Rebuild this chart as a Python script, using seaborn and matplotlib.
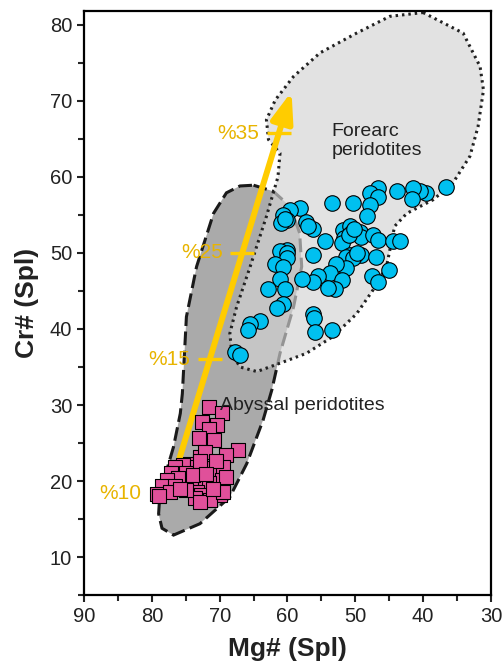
import numpy as np
import pandas as pd
import seaborn as sns
import matplotlib.pyplot as plt
from matplotlib.patches import Polygon, FancyArrowPatch
from matplotlib.ticker import MultipleLocator

# --------------------------------------------------------------
# Data
# --------------------------------------------------------------
forearc_mg = [36.6, 39.5, 40.5, 41.5, 41.7, 43.9, 46.6, 47.8, 46.7, 47.8, 48.3, 50.4,
              53.5, 58.2, 59.6, 60.6, 60.1, 60.9, 60.4, 57.2, 56.2, 56.9, 54.5, 51.8,
              50.8, 50.7, 49.3, 49.1, 51.6, 52.0, 47.4, 46.6, 44.4, 43.4, 49.1, 50.1,
              50.8, 51.3, 50.4, 47.0, 45.1, 47.6, 46.6, 51.3, 52.8, 53.7, 52.0, 53.0,
              54.0, 55.5, 56.2, 57.9, 56.2, 60.1, 61.1, 60.0, 60.1, 61.8, 60.6, 61.1,
              60.4, 62.8, 60.6, 61.6, 64.1, 65.5, 65.8, 56.2, 56.1, 56.0, 53.5, 67.7,
              67.0, 51.0, 50.2, 49.8]
forearc_cr = [58.6, 57.9, 58.1, 58.5, 57.1, 58.1, 58.5, 57.9, 57.4, 56.3, 54.8, 56.6,
              56.5, 55.9, 55.7, 55.0, 54.3, 53.9, 54.5, 54.1, 53.2, 53.6, 51.6, 53.0,
              53.5, 52.6, 52.8, 52.1, 51.9, 51.3, 52.4, 51.7, 51.6, 51.6, 49.7, 49.7,
              49.7, 49.5, 49.3, 49.5, 47.7, 47.0, 46.2, 48.0, 48.6, 47.3, 46.4, 45.3,
              45.4, 46.9, 46.2, 46.6, 49.7, 50.4, 50.2, 50.0, 49.3, 48.6, 48.2, 46.6,
              45.3, 45.3, 43.3, 42.7, 41.0, 40.7, 39.9, 42.0, 41.5, 39.6, 39.9, 37.0,
              36.6, 52.3, 53.2, 50.0]

abyssal_mg = [71.6, 69.7, 72.6, 70.4, 71.6, 73.1, 70.9, 67.3, 69.0, 72.9, 72.2, 74.4,
              75.4, 76.6, 73.4, 71.2, 69.5, 72.2, 74.9, 77.1, 76.1, 77.8, 78.5, 79.3,
              76.6, 73.4, 72.2, 69.7, 69.0, 71.5, 73.4, 72.7, 69.9, 71.4, 73.7, 72.9,
              69.5, 74.9, 77.3, 70.6, 72.9, 78.9, 75.8, 74.0, 71.0, 72.0]
abyssal_cr = [29.8, 28.9, 27.8, 27.4, 26.8, 25.6, 25.4, 24.1, 23.4, 23.2, 23.8, 22.3,
              22.1, 21.9, 21.9, 21.4, 21.8, 21.7, 21.1, 21.0, 20.4, 20.1, 19.4, 18.3,
              19.3, 20.1, 20.1, 20.1, 20.5, 19.7, 18.6, 18.2, 18.2, 17.5, 17.8, 17.3,
              18.6, 18.8, 18.6, 22.7, 22.7, 18.1, 19.0, 20.8, 18.9, 20.9]

# field outlines
forearc_field_mg = [40.0, 34.1, 31.6, 31.1, 31.9, 33.1, 35.6, 38.5, 42.4, 44.2, 44.9,
                    45.4, 47.4, 49.8, 53.3, 57.2, 61.1, 64.5, 67.0, 68.2, 68.5, 67.5,
                    65.5, 63.1, 61.4, 61.1, 62.8, 63.1, 61.8, 59.1, 55.2, 49.8, 44.9]
forearc_field_cr = [81.6, 78.9, 74.5, 71.4, 66.6, 62.7, 59.2, 57.0, 55.2, 53.5, 50.4,
                    48.2, 45.1, 42.0, 39.0, 36.8, 35.5, 34.4, 35.0, 36.8, 39.4, 42.9,
                    48.2, 54.8, 60.0, 63.1, 64.9, 67.5, 70.1, 73.2, 76.3, 78.9, 81.1]

abyssal_field_mg = [65.0, 62.1, 59.6, 58.2, 57.9, 59.1, 61.1, 62.3, 63.6, 66.0, 68.5,
                    72.9, 76.8, 78.5, 79.0, 78.8, 76.8, 75.8, 75.5, 74.9, 73.4, 70.9,
                    69.0, 67.0]
abyssal_field_cr = [58.9, 58.1, 56.1, 52.6, 48.2, 42.9, 36.8, 32.0, 28.0, 22.3, 17.9,
                    14.4, 12.9, 13.8, 15.7, 18.4, 24.5, 28.9, 31.5, 41.6, 48.2, 55.2,
                    57.9, 58.8]

# partial melting trend
arrow_mg = [77.5, 59.4]
arrow_cr = [18.4, 71.2]
melt_labels = ["%10", "%15", "%25", "%35"]
melt_cr = [18.4, 36.0, 50.0, 65.7]

x_ticks = [90, 80, 70, 60, 50, 40, 30]
y_ticks = [10, 20, 30, 40, 50, 60, 70, 80]

points = pd.concat([
    pd.DataFrame({"mg": forearc_mg, "cr": forearc_cr, "type": "forearc"}),
    pd.DataFrame({"mg": abyssal_mg, "cr": abyssal_cr, "type": "abyssal"}),
])

# --------------------------------------------------------------
# Plot
# --------------------------------------------------------------
sns.set_style("ticks")
plt.rcParams["font.family"] = ["Liberation Sans", "DejaVu Sans"]

fig = plt.figure(figsize=(5.03, 6.68), dpi=100)
ax = fig.add_axes([0.167, 0.109, 0.809, 0.8745])

# fields
ax.add_patch(Polygon(np.column_stack([abyssal_field_mg, abyssal_field_cr]), closed=True,
                     facecolor="#aaaaaa", edgecolor="#1a1a1a", lw=2.2,
                     linestyle=(0, (4.5, 1.8)), zorder=1))
ax.add_patch(Polygon(np.column_stack([forearc_field_mg, forearc_field_cr]), closed=True,
                     facecolor="#d4d4d4", edgecolor="none", alpha=0.66, zorder=2))
ax.add_patch(Polygon(np.column_stack([forearc_field_mg, forearc_field_cr]), closed=True,
                     facecolor="none", edgecolor="#222222", lw=2.2,
                     linestyle=(0, (0.8, 1.3)), zorder=2))

# melting arrow
ax.add_patch(FancyArrowPatch((arrow_mg[0], arrow_cr[0]), (arrow_mg[1], arrow_cr[1]),
                             arrowstyle="-|>,head_length=0.9,head_width=0.33",
                             mutation_scale=20, color="#ffcc00", lw=4.3,
                             shrinkA=0, shrinkB=0, zorder=3))
slope = (arrow_mg[1] - arrow_mg[0]) / (arrow_cr[1] - arrow_cr[0])
melt_mg = [arrow_mg[0] + slope * (c - arrow_cr[0]) for c in melt_cr]
ax.plot(melt_mg, melt_cr, ls="none", marker="_", ms=17, mew=2.4,
        color="#ffcc00", zorder=3)
for i, (lab, m, c) in enumerate(zip(melt_labels, melt_mg, melt_cr)):
    dx = -20 if i == 0 else -14
    ax.annotate(lab, (m, c), xytext=(dx, 0), textcoords="offset points",
                ha="right", va="center", fontsize=15, color="#e8b400", zorder=7)

# samples
sns.scatterplot(data=points[points["type"] == "forearc"], x="mg", y="cr",
                marker="o", s=125, color="#00c0f0", edgecolor="black",
                linewidth=0.8, ax=ax, zorder=4, legend=False)
sns.scatterplot(data=points[points["type"] == "abyssal"], x="mg", y="cr",
                marker="s", s=115, color="#e0509a", edgecolor="black",
                linewidth=0.8, ax=ax, zorder=5, legend=False)

ax.text(53.5, 64.7, "Forearc\nperidotites", fontsize=14, color="#222222",
        ha="left", va="center", linespacing=1.15, zorder=6)
ax.text(69.9, 29.9, "Abyssal peridotites", fontsize=14, color="#222222",
        ha="left", va="center", zorder=6)

# axes
ax.set_xlim(90, 30)
ax.set_ylim(5, 81.8)
ax.set_xticks(x_ticks)
ax.set_yticks(y_ticks)
ax.xaxis.set_minor_locator(MultipleLocator(5))
ax.yaxis.set_minor_locator(MultipleLocator(5))
ax.tick_params(which="major", length=5, width=1.5, labelsize=14.5, colors="#222222")
ax.tick_params(which="minor", length=4, width=1.5)
for sp in ax.spines.values():
    sp.set_linewidth(1.6)
    sp.set_color("black")
ax.set_xlabel("Mg# (Spl)", fontsize=19, fontweight="bold", color="#222222", labelpad=8)
ax.set_ylabel("Cr# (Spl)", fontsize=19, fontweight="bold", color="#222222", labelpad=8)

fig.savefig("out.png", dpi=100)
